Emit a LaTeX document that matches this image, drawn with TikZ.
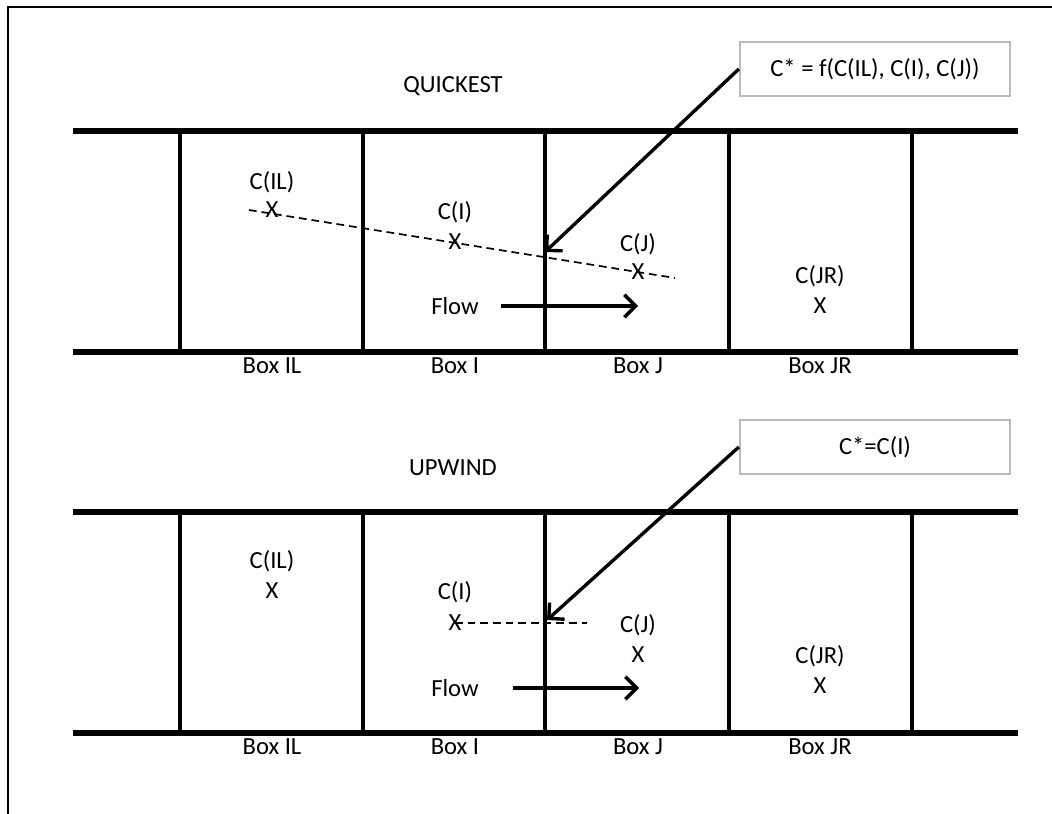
\documentclass[tikz,border=0pt]{standalone}
\usepackage{fontspec}
\setmainfont{Carlito}
\usetikzlibrary{arrows.meta, positioning}

\begin{document}
\begin{tikzpicture}[
  x=0.025cm, y=-0.025cm,
  font=\fontsize{17.5}{20}\selectfont,
  rail/.style={line width=4pt},
  wall/.style={line width=3pt},
  lbl/.style={inner sep=0pt},
  formula/.style={rectangle, draw=black!27, line width=1.6pt,
                  minimum width=6.75cm, minimum height=1.35cm, align=center},
  arr/.style={-{Straight Barb[length=2.8mm, width=5.6mm]}, line width=2.4pt},
  interp/.style={line width=1.2pt, dash pattern=on 5.5pt off 3.5pt}
]
\useasboundingbox (0,0) rectangle (1052,814);
%% open frame
\draw[line width=1pt] (8,814) -- (8,7) -- (1052,7);
%% rails, walls and box names (same for both schemes)
\foreach \dy in {0,381}{
  \draw[rail] (73,{131+\dy}) -- (1018,{131+\dy});
  \draw[rail] (73,{352+\dy}) -- (1018,{352+\dy});
  \foreach \x in {180,363,545,729,912}
    \draw[wall] (\x,{131+\dy}) -- (\x,{352+\dy});
  \foreach \x/\t in {272/IL,455/I,638/J,820/JR}
    \node[lbl] at (\x,{366+\dy}) {Box \t};
}
%% QUICKEST
\node[lbl]     (q_title) at (453,86)  {QUICKEST};
\node[formula] (q_eq)    at (875,69)  {C* = f(C(IL), C(I), C(J))};
\node[lbl] (q_cil) at (272,182) {C(IL)};
\node[lbl] (q_xil) at (272,210) {X};
\node[lbl] (q_ci)  at (455,212) {C(I)};
\node[lbl] (q_xi)  at (455,242) {X};
\node[lbl] (q_cj)  at (638,244) {C(J)};
\node[lbl] (q_xj)  at (638,272) {X};
\node[lbl] (q_cjr) at (820,276) {C(JR)};
\node[lbl] (q_xjr) at (820,306) {X};
\node[lbl] (q_flow) at (455,306) {Flow};
\coordinate (q_ds)  at (249,210);
\coordinate (q_de)  at (675,278);
\coordinate (q_hit) at (545,252);
\coordinate (q_fs)  at (501,306);
\coordinate (q_fe)  at (638,306);
\draw[interp] (q_ds) -- (q_de);
\draw[arr] (q_eq.west) -- (q_hit);
\draw[arr] (q_fs) -- (q_fe);
%% UPWIND
\node[lbl]     (u_title) at (453,468) {UPWIND};
\node[formula] (u_eq)    at (875,447) {C*=C(I)};
\node[lbl] (u_cil) at (272,561) {C(IL)};
\node[lbl] (u_xil) at (272,591) {X};
\node[lbl] (u_ci)  at (455,592) {C(I)};
\node[lbl] (u_xi)  at (455,623) {X};
\node[lbl] (u_cj)  at (638,625) {C(J)};
\node[lbl] (u_xj)  at (638,655) {X};
\node[lbl] (u_cjr) at (820,656) {C(JR)};
\node[lbl] (u_xjr) at (820,686) {X};
\node[lbl] (u_flow) at (455,688) {Flow};
\coordinate (u_de)  at (587,623);
\coordinate (u_hit) at (547,620);
\coordinate (u_fs)  at (513,688);
\coordinate (u_fe)  at (639,688);
\draw[interp] (u_xi.center) -- (u_de);
\draw[arr] (u_eq.west) -- (u_hit);
\draw[arr] (u_fs) -- (u_fe);
\end{tikzpicture}
\end{document}
